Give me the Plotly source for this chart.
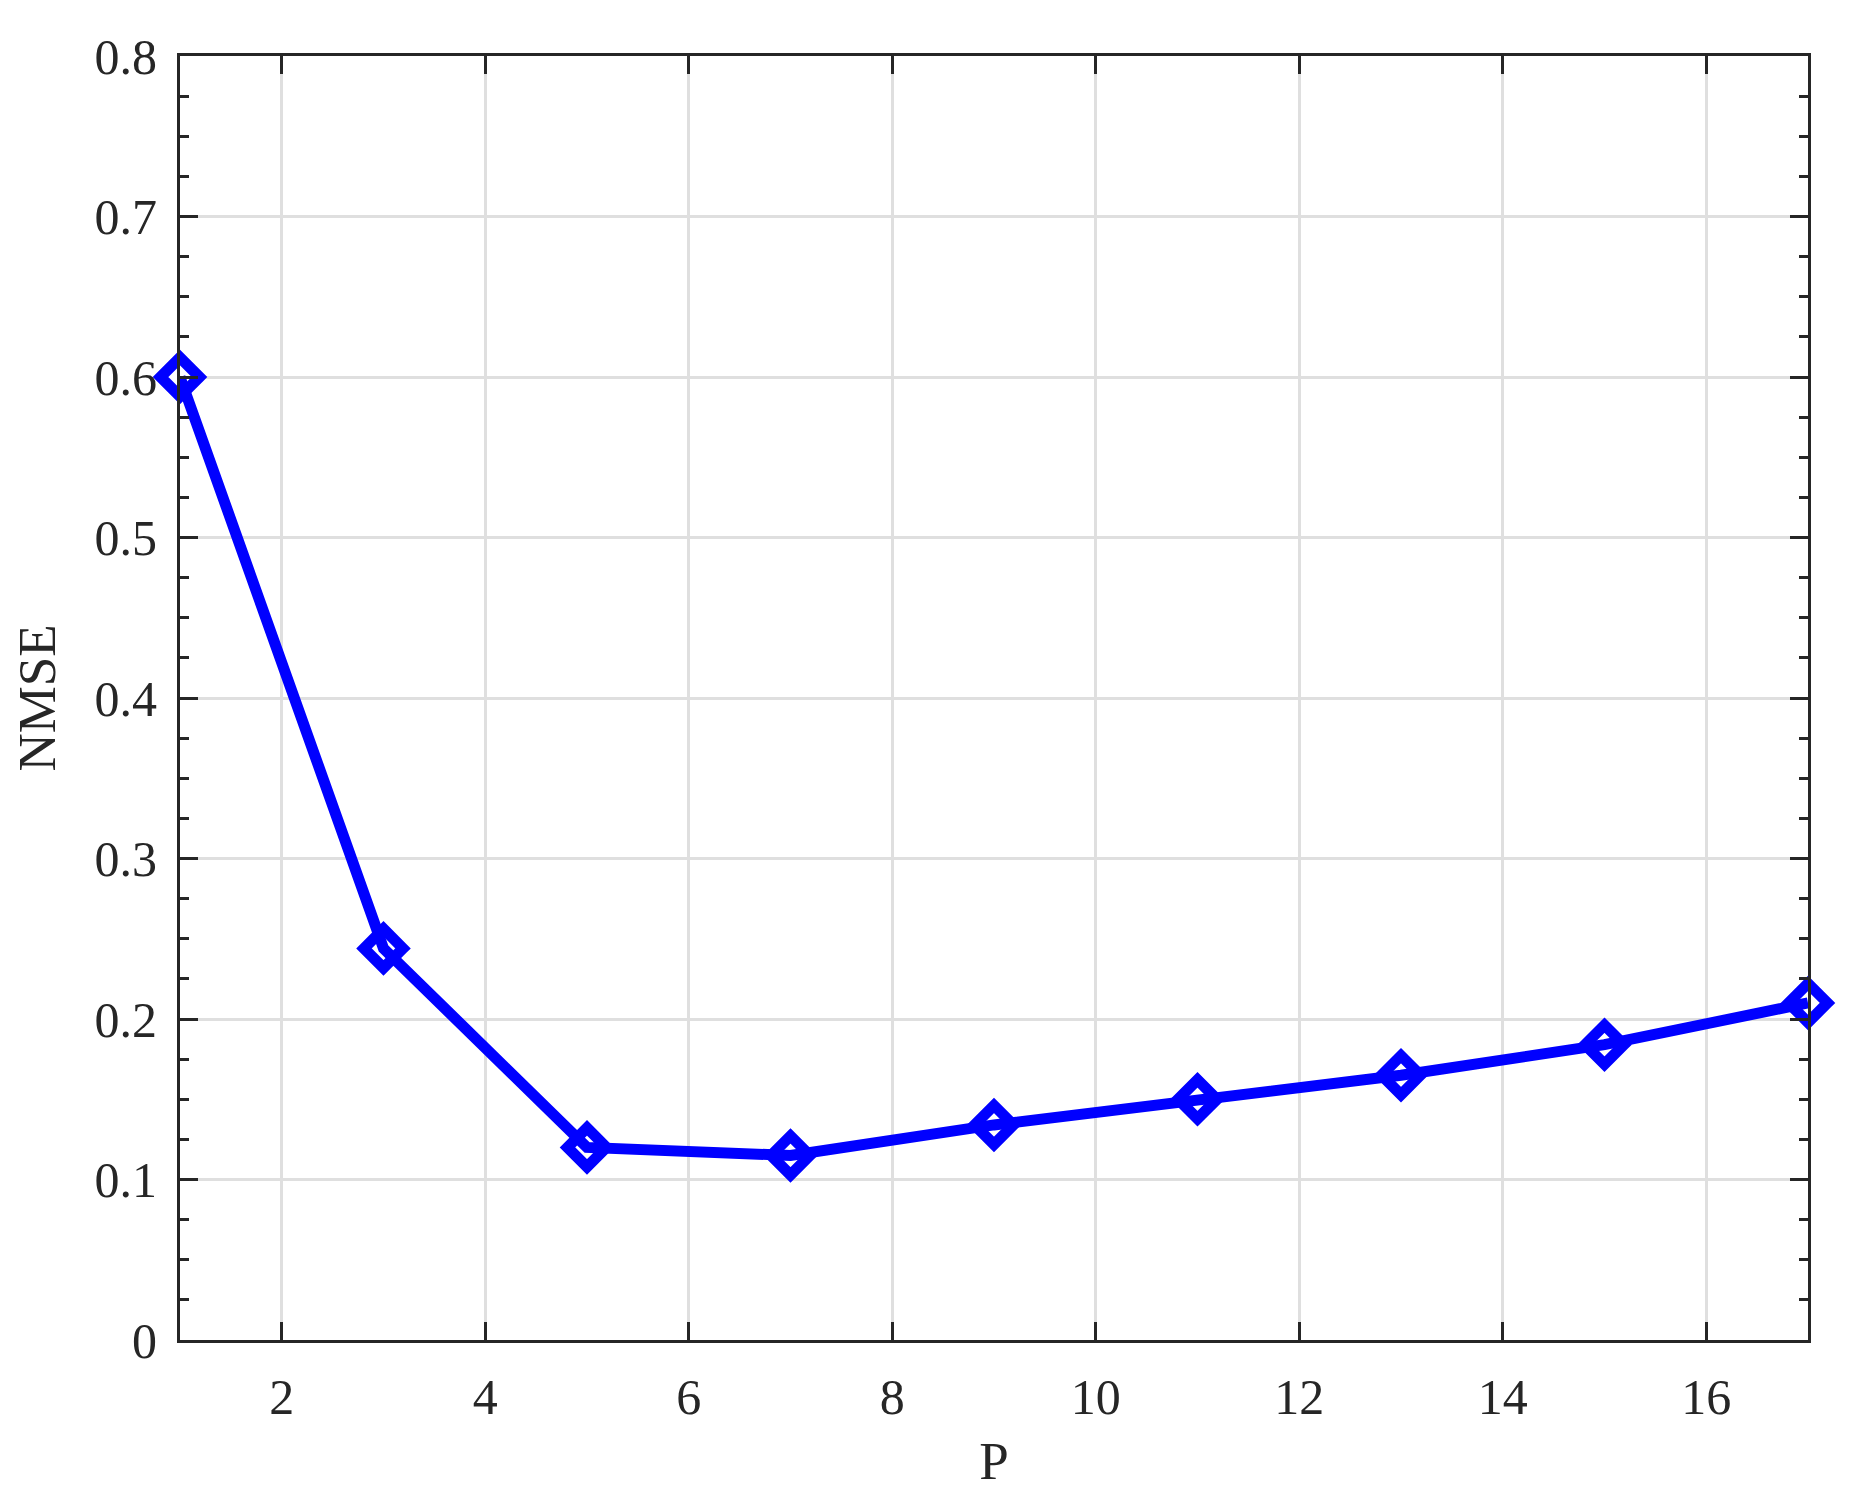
import plotly.graph_objects as go

# P values and corresponding NMSE
p_values = [1, 3, 5, 7, 9, 11, 13, 15, 17]
nmse = [0.600, 0.244, 0.120, 0.115, 0.134, 0.150, 0.165, 0.184, 0.210]

x_ticks = [2, 4, 6, 8, 10, 12, 14, 16]
y_ticks = [0, 0.1, 0.2, 0.3, 0.4, 0.5, 0.6, 0.7, 0.8]
y_ticklabels = ['0', '0.1', '0.2', '0.3', '0.4', '0.5', '0.6', '0.7', '0.8']

axis_color = '#262626'
font_family = '"Times New Roman", "Liberation Serif", serif'

fig = go.Figure()
fig.add_trace(go.Scatter(
    x=p_values, y=nmse,
    mode='lines+markers',
    line=dict(color='#0000ff', width=11),
    marker=dict(symbol='diamond-open', size=30,
                color='#0000ff', line=dict(color='#0000ff', width=11)),
    cliponaxis=False,
    showlegend=False,
))

common = dict(
    showline=True, linecolor=axis_color, linewidth=3, mirror='ticks',
    ticks='inside', ticklen=18, tickwidth=3, tickcolor=axis_color,
    showgrid=True, gridcolor='#dfdfdf', gridwidth=3,
    zeroline=False,
    tickfont=dict(family=font_family, size=50, color=axis_color),
    title_font=dict(family=font_family, size=53, color=axis_color),
)

fig.update_xaxes(
    range=[1, 17], tickvals=x_ticks, title_text='P', title_standoff=18,
    ticklabelstandoff=11, **common)
fig.update_yaxes(
    range=[0, 0.8], tickvals=y_ticks, ticktext=y_ticklabels,
    title_text='NMSE', title_standoff=24, ticklabelstandoff=10,
    minor=dict(ticks='inside', ticklen=9, tickwidth=3, tickcolor=axis_color,
               dtick=0.025, tick0=0, showgrid=False),
    **common)

# page body has an 8px margin, so offsets are shifted by that
fig.update_layout(
    width=1853, height=1511,
    margin=dict(l=172, r=53, t=48, b=179),
    plot_bgcolor='white', paper_bgcolor='white',
)

fig.write_html("out.html")
